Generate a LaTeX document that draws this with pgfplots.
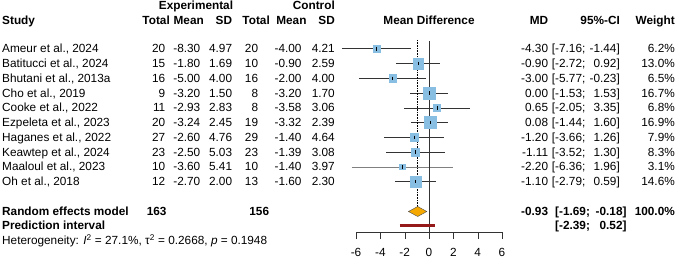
\documentclass[border=0pt]{standalone}
\usepackage{pgfplots}
\pgfplotsset{compat=1.18}
\usepackage{pgfplotstable}
\usepackage{fontspec}
\setmainfont{Liberation Sans}
\definecolor{sq}{RGB}{135,190,225}
\definecolor{dia}{RGB}{245,168,0}
\definecolor{pred}{RGB}{150,25,25}
\pgfplotstableread{
md lo hi ms y
-4.30 -7.16 -1.44 3.61 48.8
-0.90 -2.72 0.92 5.23 63.55
-3.00 -5.77 -0.23 3.70 78.3
0.00 -1.53 1.53 5.93 93.05
0.65 -2.05 3.35 3.78 107.8
0.08 -1.44 1.60 5.96 122.55
-1.20 -3.66 1.26 4.08 137.3
-1.11 -3.52 1.30 4.18 152.05
-2.20 -6.36 1.96 2.55 166.8
-1.10 -2.79 0.59 5.54 181.55
}\studies
\newcommand\R[3]{\node[anchor=base east,inner sep=0pt] at ({#1pt},{257.8pt-#2pt}) {#3};}
\newcommand\Lf[3]{\node[anchor=base west,inner sep=0pt] at ({#1pt},{257.8pt-#2pt}) {#3};}
\newcommand\rowL[8]{\Lf{2}{#1}{#2}\R{165.5}{#1}{#3}\R{200.5}{#1}{#4}\R{232.3}{#1}{#5}\R{258.3}{#1}{#6}\R{301.7}{#1}{#7}\R{335}{#1}{#8}}
\newcommand\rowR[5]{\R{548.3}{#1}{#2}\Lf{551.7}{#1}{[#3;}\R{620}{#1}{#4]}\R{675}{#1}{#5}}
\begin{document}
\begin{tikzpicture}[font=\fontsize{11.8}{14}\selectfont]
\useasboundingbox (0,0) rectangle (677pt,262pt);
\begin{axis}[
  at={(356pt,30pt)}, anchor=south west,
  scale only axis, width=146pt, height=232pt,
  xmin=-6, xmax=6, ymin=0, ymax=232, y dir=reverse,
  clip=false,
  axis x line=bottom, axis y line=none,
  axis line style={black!80, -},
  xtick={-6,-4,-2,0,2,4,6},
  xticklabels={-6,-4,-2,0,2,4,6},
  xtick align=outside,
  major tick length=7pt,
  tick style={black!80},
  x tick label style={yshift=-6pt},
]
% squares
\addplot[scatter, only marks, mark=square*, draw=none,
  scatter/use mapped color={draw=sq, fill=sq},
  visualization depends on={\thisrow{ms} \as \msz},
  scatter/@pre marker code/.append style={/tikz/mark size=\msz pt}]
  table[x=md, y=y] {\studies};
% CI lines
\addplot[black!80, line width=0.6pt] coordinates {(-7.16,48.8) (-1.44,48.8)};
\addplot[black!80, line width=0.6pt] coordinates {(-2.72,63.55) (0.92,63.55)};
\addplot[black!80, line width=0.6pt] coordinates {(-5.77,78.3) (-0.23,78.3)};
\addplot[black!80, line width=0.6pt] coordinates {(-1.53,93.05) (1.53,93.05)};
\addplot[black!80, line width=0.6pt] coordinates {(-2.05,107.8) (3.35,107.8)};
\addplot[black!80, line width=0.6pt] coordinates {(-1.44,122.55) (1.60,122.55)};
\addplot[black!80, line width=0.6pt] coordinates {(-3.66,137.3) (1.26,137.3)};
\addplot[black!80, line width=0.6pt] coordinates {(-3.52,152.05) (1.30,152.05)};
\addplot[black!50, line width=0.6pt] coordinates {(-6.36,166.8) (1.96,166.8)};
\addplot[black!80, line width=0.6pt] coordinates {(-2.79,181.55) (0.59,181.55)};
% point estimate ticks
\addplot[only marks, mark=|, mark size=1.8pt, mark options={black, line width=0.8pt}] table[x=md, y=y] {\studies};
% reference lines
\addplot[black!80, line width=0.6pt] coordinates {(0,41) (0,232)};
\addplot[black, densely dotted, line width=0.6pt] coordinates {(-0.93,40) (-0.93,206.5)};
% diamond
\addplot[fill=dia, draw=black!70, line width=0.4pt] coordinates {(-1.69,211.5) (-0.93,206.5) (-0.18,211.5) (-0.93,216.5)} -- cycle;
% prediction interval
\addplot[pred, line width=3pt] coordinates {(-2.39,225.8) (0.52,225.8)};
\end{axis}
% headers
\node[anchor=base,inner sep=0pt,font=\fontsize{11.8}{14}\selectfont\bfseries] at (196pt,{257.8pt-5.5pt}) {Experimental};
\begin{scope}[font=\fontsize{11.8}{14}\selectfont\bfseries]
\R{335}{5.5}{Control}
\Lf{2}{20}{Study}
\R{170}{20}{Total}\R{204}{20}{Mean}\R{232.3}{20}{SD}
\R{270}{20}{Total}\R{306.7}{20}{Mean}\R{335}{20}{SD}
\node[anchor=base,inner sep=0pt] at (429pt,{257.8pt-20pt}) {Mean Difference};
\R{548.3}{20}{MD}\R{620}{20}{95\%-CI}\R{675}{20}{Weight}
\end{scope}
% study rows
\rowL{48.8}{Ameur et al., 2024}{20}{-8.30}{4.97}{20}{-4.00}{4.21}
\rowL{63.55}{Batitucci et al., 2024}{15}{-1.80}{1.69}{10}{-0.90}{2.59}
\rowL{78.3}{Bhutani et al., 2013a}{16}{-5.00}{4.00}{16}{-2.00}{4.00}
\rowL{93.05}{Cho et al., 2019}{9}{-3.20}{1.50}{8}{-3.20}{1.70}
\rowL{107.8}{Cooke et al., 2022}{11}{-2.93}{2.83}{8}{-3.58}{3.06}
\rowL{122.55}{Ezpeleta et al., 2023}{20}{-3.24}{2.45}{19}{-3.32}{2.39}
\rowL{137.3}{Haganes et al., 2022}{27}{-2.60}{4.76}{29}{-1.40}{4.64}
\rowL{152.05}{Keawtep et al., 2024}{23}{-2.50}{5.03}{23}{-1.39}{3.08}
\rowL{166.8}{Maaloul et al., 2023}{10}{-3.60}{5.41}{10}{-1.40}{3.97}
\rowL{181.55}{Oh et al., 2018}{12}{-2.70}{2.00}{13}{-1.60}{2.30}
\rowR{48.8}{-4.30}{-7.16}{-1.44}{6.2\%}
\rowR{63.55}{-0.90}{-2.72}{0.92}{13.0\%}
\rowR{78.3}{-3.00}{-5.77}{-0.23}{6.5\%}
\rowR{93.05}{0.00}{-1.53}{1.53}{16.7\%}
\rowR{107.8}{0.65}{-2.05}{3.35}{6.8\%}
\rowR{122.55}{0.08}{-1.44}{1.60}{16.9\%}
\rowR{137.3}{-1.20}{-3.66}{1.26}{7.9\%}
\rowR{152.05}{-1.11}{-3.52}{1.30}{8.3\%}
\rowR{166.8}{-2.20}{-6.36}{1.96}{3.1\%}
\rowR{181.55}{-1.10}{-2.79}{0.59}{14.6\%}
% summary
\begin{scope}[font=\fontsize{11.8}{14}\selectfont\bfseries]
\Lf{2}{211.5}{Random effects model}
\R{166.7}{211.5}{163}\R{269.3}{211.5}{156}
\R{548.3}{211.5}{-0.93}\Lf{555}{211.5}{[-1.69;}\R{626.7}{211.5}{-0.18]}\R{675}{211.5}{100.0\%}
\Lf{2}{225.8}{Prediction interval}
\Lf{555}{225.8}{[-2.39;}\R{626.7}{225.8}{0.52]}
\end{scope}
\begin{scope}[font=\fontsize{11.8}{14}\selectfont]
\Lf{2}{240.8}{Heterogeneity: \textit{I}\textsuperscript{2} = 27.1\%, τ\textsuperscript{2} = 0.2668, \textit{p} = 0.1948}
\end{scope}
\end{tikzpicture}
\end{document}
